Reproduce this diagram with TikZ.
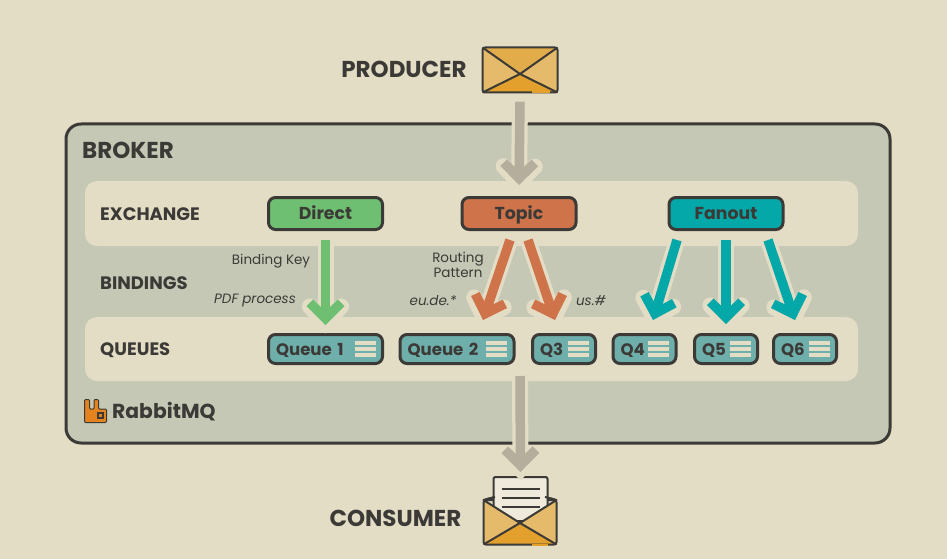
\documentclass[tikz,border=0pt]{standalone}
\usepackage{fontspec}
\setmainfont{Poppins}
\usetikzlibrary{calc}
\definecolor{PageBack}{HTML}{E4DDC5}
\definecolor{BrokerBack}{HTML}{C5C8B5}
\definecolor{InkDark}{HTML}{3B3A36}
\definecolor{DirectGreen}{HTML}{6FBF73}
\definecolor{TopicRed}{HTML}{CF734A}
\definecolor{FanoutTeal}{HTML}{05A8A8}
\definecolor{QueueTeal}{HTML}{6FAFAB}
\definecolor{FlowGray}{HTML}{B5AE9C}
\definecolor{RabbitOrange}{HTML}{E5841F}
\definecolor{EnvTop}{HTML}{E3AC4A}
\definecolor{EnvSide}{HTML}{E5BB6B}
\definecolor{EnvBottom}{HTML}{E3A02C}
\definecolor{LetterBack}{HTML}{EFEADB}
\tikzset{
  BigLabel/.style={font=\bfseries\fontsize{23}{23}\selectfont, text=InkDark, inner sep=0pt, text height=16pt, text depth=0pt},
  RowLabel/.style={font=\bfseries\fontsize{18}{18}\selectfont, text=InkDark, inner sep=0pt, anchor=west, text height=13pt, text depth=0pt},
  SmallLabel/.style={font=\fontsize{13.5}{15}\selectfont, text=InkDark, inner sep=0pt, align=center},
  PatternLabel/.style={font=\itshape\fontsize{13.5}{15}\selectfont, text=InkDark, inner sep=0pt},
  Band/.style={fill=PageBack, rounded corners=12pt},
  ExchangeBox/.style={draw=InkDark, line width=3pt, rounded corners=7pt, fill=#1,
    minimum width=114pt, minimum height=32pt, inner sep=0pt, text height=12pt, text depth=0pt,
    font=\bfseries\fontsize{17.3}{17}\selectfont, text=InkDark},
  QueueBox/.style={draw=InkDark, line width=3pt, rounded corners=7pt, fill=QueueTeal,
    text width=#1, inner xsep=7.5pt, inner ysep=0pt, minimum height=29pt, align=left,
    text height=12pt, text depth=0pt,
    font=\bfseries\fontsize{16.6}{17}\selectfont, text=InkDark},
  QueueBar/.style={draw=PageBack, line width=3.4pt},
  FlowHalo/.style={draw=PageBack, line width=16pt, line join=miter},
  FlowLine/.style={draw=#1, line width=9.5pt, line join=miter},
  EnvLine/.style={draw=InkDark, line width=2pt, line join=round},
}
% color, inicio, punta
\newcommand{\FlowArrow}[3]{
  \coordinate (fs) at #2;
  \coordinate (fe) at #3;
  \coordinate (fv) at ($(fe)!6.7pt!(fs)$);
  \coordinate (fw) at ($(fe)!3pt!(fs)$);
  \draw[FlowHalo, line cap=butt] (fs) -- (fv);
  \draw[FlowHalo, line cap=round] ($(fw)!22pt!45:(fs)$) -- (fw) -- ($(fw)!22pt!-45:(fs)$);
  \draw[FlowLine=#1] (fs) -- (fv);
  \draw[FlowLine=#1] ($(fv)!22pt!45:(fs)$) -- (fv) -- ($(fv)!22pt!-45:(fs)$);
}
\begin{document}
\begin{tikzpicture}[x=1pt,y=-1pt]

\fill[PageBack] (0,0) rectangle (947,559);
\useasboundingbox (0,0) rectangle (947,559);

% Broker
\draw[fill=BrokerBack, draw=InkDark, line width=3pt, rounded corners=15pt] (66,124) rectangle (890,443);
\fill[Band] (85,181) rectangle (858,246);
\fill[Band] (85,317) rectangle (858,381);

\node[BigLabel, anchor=west] (BrokerLabel) at (82,150) {BROKER};
\node[RowLabel] (ExchangeLabel) at (100,214) {EXCHANGE};
\node[RowLabel] (BindingsLabel) at (100,283) {BINDINGS};
\node[RowLabel] (QueuesLabel) at (100,349) {QUEUES};

% Flechas de entrada y salida
\node[inner sep=0pt, minimum width=75pt, minimum height=45pt] (ProducerEnv) at (520,70) {};
\node[inner sep=0pt, minimum width=54pt, minimum height=44pt, anchor=north] (LetterTop) at (520.5,476) {};

% Exchanges
\node[ExchangeBox=DirectGreen] (Direct) at (325.5,213.5) {Direct};
\node[ExchangeBox=TopicRed] (Topic) at (519,213.5) {Topic};
\node[ExchangeBox=FanoutTeal] (Fanout) at (726,213.5) {Fanout};

% Colas
\node[QueueBox=99pt] (QueueOne) at (325.5,349) {Queue 1};
\node[QueueBox=99pt] (QueueTwo) at (457,349) {Queue 2};
\node[QueueBox=48pt] (QThree) at (564,349) {Q3};
\node[QueueBox=48pt] (QFour) at (644.5,349) {Q4};
\node[QueueBox=48pt] (QFive) at (726,349) {Q5};
\node[QueueBox=48pt] (QSix) at (805,349) {Q6};

\foreach \q in {QueueOne,QueueTwo,QThree,QFour,QFive,QSix}
  \foreach \dy in {-6,0,6}
    \draw[QueueBar] ([shift={(-29.5,\dy)}]\q.east) -- ++(21,0);

% Sobres
\coordinate (PA) at (482.5,47.5);
\coordinate (PB) at (557.5,47.5);
\coordinate (PC) at (557.5,92.5);
\coordinate (PD) at (482.5,92.5);
\coordinate (PI) at (520,74);
\fill[EnvSide] (PA) -- (PB) -- (PC) -- (PD) -- cycle;
\fill[EnvTop] (PA) -- (PB) -- (PI) -- cycle;
\fill[EnvBottom] (PD) -- (PC) -- (PI) -- cycle;
\draw[EnvLine, rounded corners=2.5pt] (PA) rectangle (PC);
\draw[EnvLine] (PA) -- (PI) -- (PB);
\draw[EnvLine] (PD) -- (PI) -- (PC);
\draw[EnvBottom, line width=2pt] (532,92.5) -- (550,92.5);
\node[BigLabel] (Producer) at (404,70) {PRODUCER};

\coordinate (CA) at (483.5,500);
\coordinate (CB) at (556.5,500);
\coordinate (CC) at (556.5,544.5);
\coordinate (CD) at (483.5,544.5);
\coordinate (CI) at (520,523);
\fill[EnvBottom, draw=InkDark, line width=2pt, line join=round] (CA) -- (495,497) -- (545,497) -- (CB) -- cycle;
\node[draw=InkDark, line width=2pt, fill=LetterBack, rounded corners=2pt, inner sep=0pt,
  minimum width=54pt, minimum height=44pt, anchor=north] (Letter) at (520.5,476) {};
\foreach \ly in {489,498,507}
  \draw[InkDark, line width=1.6pt] (502,\ly) -- (540,\ly);
\fill[EnvSide] (CA) -- (CI) -- (CB) -- (CC) -- (CD) -- cycle;
\fill[EnvBottom] (CD) -- (CC) -- (CI) -- cycle;
\draw[EnvLine, rounded corners=2.5pt] (495,497) -- (CA) -- (CD) -- (CC) -- (CB) -- (545,497);
\draw[EnvLine] (CA) -- (CI) -- (CB);
\draw[EnvLine] (CD) -- (CI) -- (CC);
\draw[EnvBottom, line width=2pt] (532,544.5) -- (548,544.5);
\node[BigLabel] (Consumer) at (395.5,518) {CONSUMER};

% Flechas
\FlowArrow{FlowGray}{([yshift=-9pt]ProducerEnv.south)}{([yshift=11pt]Topic.north)}
\FlowArrow{FlowGray}{(520,376)}{([yshift=4pt]LetterTop.north)}
\FlowArrow{DirectGreen}{([shift={(0,9)}]Direct.south)}{([shift={(0,-8)}]QueueOne.north)}
\FlowArrow{TopicRed}{([shift={(-9,9)}]Topic.south)}{([shift={(26,-13)}]QueueTwo.north)}
\FlowArrow{TopicRed}{([shift={(9,9)}]Topic.south)}{([shift={(-9,-13)}]QThree.north)}
\FlowArrow{FanoutTeal}{([shift={(-49,9)}]Fanout.south)}{([shift={(8.5,-13)}]QFour.north)}
\FlowArrow{FanoutTeal}{([shift={(0,9)}]Fanout.south)}{([shift={(0,-9)}]QFive.north)}
\FlowArrow{FanoutTeal}{([shift={(42,9)}]Fanout.south)}{([shift={(-10,-13)}]QSix.north)}

% Textos
\node[SmallLabel] (BindingKey) at (271,261) {Binding Key};
\node[SmallLabel] (RoutingPattern) at (458,265) {Routing\\Pattern};
\node[PatternLabel] (PdfProcess) at (255,301) {PDF process};
\node[PatternLabel] (EuDe) at (433,301) {eu.de.*};
\node[PatternLabel] (UsHash) at (591,301) {us.\#};

% Logo
\fill[RabbitOrange, draw=InkDark, line width=1pt, rounded corners=1pt]
  (84.5,399.5) -- (89.5,399.5) -- (89.5,409) -- (94,409) -- (94,399.5) -- (98.5,399.5)
  -- (98.5,409) -- (106.5,409) -- (106.5,422.5) -- (84.5,422.5) -- cycle;
\fill[InkDark] (97,412) rectangle (103.5,418.5);
\fill[RabbitOrange] (98.9,413.9) rectangle (101.6,416.6);
\node[font=\bfseries\fontsize{20.3}{20}\selectfont, text=InkDark, inner sep=0pt, anchor=west] (RabbitName) at (112,412) {RabbitMQ};

\end{tikzpicture}
\end{document}
